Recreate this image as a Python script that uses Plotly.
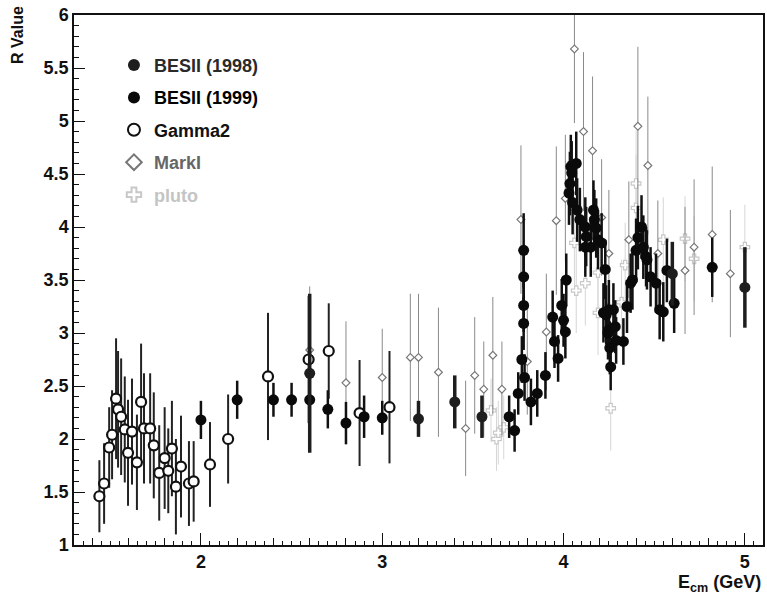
import plotly.graph_objects as go

# ---------------- data ----------------
# BESII (1998)
bes98_x = [2.6, 3.2, 3.4, 3.55, 4.6, 5.0]
bes98_y = [2.62, 2.19, 2.35, 2.21, 3.56, 3.43]
bes98_e = [0.75, 0.17, 0.25, 0.20, 0.30, 0.38]

# BESII (1999)
bes99_x = [2.0, 2.2, 2.4, 2.5, 2.6, 2.7, 2.8, 2.9, 3.0,
           3.70, 3.73, 3.75, 3.77, 3.78, 3.78, 3.78, 3.78, 3.785, 3.82, 3.855,
           3.90, 3.94, 3.95, 3.97, 3.99, 4.0, 4.01, 4.015,
           4.03, 4.035, 4.04, 4.045, 4.05, 4.07, 4.075, 4.09, 4.12, 4.125, 4.12,
           4.15, 4.165, 4.17, 4.18, 4.19, 4.21, 4.23,
           4.22, 4.235, 4.25, 4.25, 4.255, 4.26, 4.245, 4.275, 4.29, 4.285,
           4.33, 4.35, 4.37, 4.38, 4.40, 4.41, 4.43, 4.44, 4.455, 4.46, 4.48,
           4.51, 4.53, 4.55, 4.57, 4.61, 4.82]
bes99_y = [2.18, 2.37, 2.37, 2.37, 2.37, 2.28, 2.15, 2.21, 2.20,
           2.21, 2.08, 2.43, 2.75, 3.78, 3.53, 3.26, 3.09, 2.58, 2.35, 2.43,
           2.60, 3.15, 2.92, 2.76, 3.26, 3.12, 3.01, 3.50,
           4.32, 4.41, 4.57, 4.51, 4.23, 4.60, 4.16, 4.07, 4.00, 3.91, 3.81,
           3.81, 4.16, 4.07, 3.99, 3.88, 3.85, 3.60,
           3.19, 3.17, 3.22, 3.03, 2.86, 2.68, 3.00, 3.22, 2.93, 3.06,
           2.92, 3.25, 3.47, 3.50, 3.78, 3.90, 4.00, 3.81, 3.72, 3.69, 3.53,
           3.47, 3.22, 3.20, 3.59, 3.28, 3.62]
bes99_e = [0.18, 0.18, 0.16, 0.16, 0.20, 0.18, 0.20, 0.20, 0.16,
           0.20, 0.20, 0.20, 0.22, 0.35, 0.28, 0.25, 0.25, 0.22, 0.22, 0.22,
           0.22, 0.25, 0.25, 0.22, 0.25, 0.25, 0.25, 0.25,
           0.30, 0.30, 0.30, 0.30, 0.30, 0.30, 0.30, 0.30, 0.28, 0.28, 0.28,
           0.28, 0.28, 0.28, 0.28, 0.28, 0.28, 0.28,
           0.28, 0.28, 0.28, 0.25, 0.25, 0.22, 0.25, 0.25, 0.22, 0.25,
           0.22, 0.25, 0.28, 0.28, 0.30, 0.30, 0.30, 0.30, 0.28, 0.28, 0.28,
           0.28, 0.28, 0.28, 0.30, 0.28, 0.28]

# Gamma2
g2_x = [1.44, 1.466, 1.494, 1.51, 1.532, 1.543, 1.56, 1.58, 1.598, 1.62,
        1.647, 1.67, 1.686, 1.72, 1.74, 1.77, 1.80, 1.82, 1.84, 1.862,
        1.89, 1.934, 1.96, 2.05, 2.15, 2.37, 2.594, 2.705, 2.875, 3.04]
g2_y = [1.46, 1.58, 1.92, 2.04, 2.38, 2.28, 2.21, 2.09, 1.87, 2.07,
        1.78, 2.35, 2.10, 2.10, 1.94, 1.68, 1.82, 1.70, 1.91, 1.55,
        1.74, 1.58, 1.60, 1.76, 2.00, 2.59, 2.75, 2.83, 2.245, 2.30]
g2_e = [0.34, 0.38, 0.38, 0.42, 0.57, 0.55, 0.55, 0.50, 0.50, 0.50,
        0.45, 0.55, 0.52, 0.52, 0.50, 0.45, 0.48, 0.40, 0.45, 0.45,
        0.48, 0.40, 0.38, 0.40, 0.42, 0.60, 0.60, 0.45, 0.50, 0.53]

# MarkI
mk_x = [2.6, 2.8, 3.0, 3.155, 3.20, 3.31, 3.46, 3.51, 3.56, 3.61, 3.66,
        3.765, 3.80, 3.905, 3.96, 4.01, 4.06, 4.11, 4.16, 4.21, 4.25,
        4.36, 4.41, 4.465, 4.52, 4.67, 4.72, 4.82, 4.92]
mk_y = [2.84, 2.53, 2.58, 2.77, 2.77, 2.63, 2.10, 2.60, 2.47, 2.79, 2.47,
        4.07, 2.73, 3.01, 4.06, 4.27, 5.68, 4.90, 4.72, 4.09, 3.75,
        3.88, 4.95, 4.58, 3.75, 3.59, 3.81, 3.93, 3.56]
mk_e = [0.60, 0.58, 0.46, 0.60, 0.60, 0.61, 0.45, 0.55, 0.45, 0.55, 0.45,
        0.70, 0.50, 0.55, 0.70, 0.60, 0.70, 0.75, 0.70, 0.55, 0.60,
        0.55, 0.75, 0.65, 0.50, 0.60, 0.64, 0.64, 0.60]

# pluto
pl_x = [3.60, 3.63, 3.64, 3.67, 4.06, 4.07, 4.12, 4.19, 4.19, 4.26,
        4.32, 4.34, 4.40, 4.40, 4.55, 4.67, 4.72, 5.0]
pl_y = [2.27, 2.00, 2.06, 2.11, 3.85, 3.40, 3.47, 3.57, 3.19, 2.29,
        3.29, 3.64, 4.41, 4.18, 3.88, 3.89, 3.70, 3.81]
pl_e = [0.30, 0.30, 0.30, 0.30, 0.40, 0.40, 0.40, 0.40, 0.40, 0.40,
        0.40, 0.40, 0.50, 0.50, 0.40, 0.40, 0.40, 0.40]

FONT = "Liberation Sans"

fig = go.Figure()

def add(x, y, e, name, rank, symbol, fill, line_c, line_w, size, bar_c, bar_w):
    fig.add_trace(go.Scatter(
        x=x, y=y, mode="markers", name=name, legendrank=rank, legendgroup=name,
        marker=dict(symbol=symbol, color=fill, size=size,
                    line=dict(color=line_c, width=line_w)),
        error_y=dict(type="data", array=e, visible=True, color=bar_c,
                     thickness=bar_w, width=0),
        cliponaxis=True,
    ))

add(pl_x, pl_y, pl_e, '<span style="color:#c4c4c4">pluto</span>', 5,
    "cross", "white", "#c8c8c8", 1.2, 8, "#d6d6d6", 1)
add(mk_x, mk_y, mk_e, '<span style="color:#666666">MarkI</span>', 4,
    "diamond", "white", "#777777", 1.2, 6, "#8a8a8a", 1)
add(g2_x, g2_y, g2_e, '<span style="color:#111111">Gamma2</span>', 3,
    "circle", "white", "#111111", 2.2, 10, "#222222", 2)
add(bes99_x, bes99_y, bes99_e, '<span style="color:#000000">BESII (1999)</span>', 2,
    "circle", "#0a0a0a", "#0a0a0a", 0, 11, "#111111", 2.5)
add(bes98_x, bes98_y, bes98_e, '<span style="color:#2a2a2a">BESII (1998)</span>', 1,
    "circle", "#1e1e1e", "#1e1e1e", 0, 11, "#1e1e1e", 3.5)

# invisible trace that carries the secondary x-axis (medium ticks every 0.2)
fig.add_trace(go.Scatter(x=[1.3], y=[1], xaxis="x2", mode="markers",
                         marker=dict(opacity=0), showlegend=False, hoverinfo="skip"))

fig.update_layout(
    width=767, height=600,
    margin=dict(l=74, r=2, t=15, b=55),
    paper_bgcolor="white", plot_bgcolor="white",
    font=dict(family=FONT, color="#111111"),
    showlegend=True,
    legend=dict(x=0.058, y=0.94, xanchor="left", yanchor="top",
                bgcolor="rgba(0,0,0,0)", borderwidth=0,
                font=dict(family=FONT, size=18, color="#111111", weight="bold"),
                tracegroupgap=6, itemsizing="constant"),
    xaxis=dict(range=[1.3, 5.1], showgrid=False, zeroline=False,
               showline=True, linecolor="#111111", linewidth=1.5, mirror=True,
               ticks="inside", ticklen=12, tickwidth=1.2, tickcolor="#111111",
               dtick=1, tick0=0,
               tickfont=dict(family=FONT, size=18, color="#111111", weight="bold"),
               minor=dict(ticks="inside", ticklen=4, dtick=0.05, tick0=0,
                          tickcolor="#111111", tickwidth=1)),
    xaxis2=dict(range=[1.3, 5.1], overlaying="x", anchor="y", side="bottom",
                showgrid=False, zeroline=False, showline=False,
                ticks="inside", ticklen=7, tickwidth=1, tickcolor="#111111",
                dtick=0.2, tick0=0, showticklabels=False),
    yaxis=dict(range=[1, 6], showgrid=False, zeroline=False,
               showline=True, linecolor="#111111", linewidth=1.5, mirror=True,
               ticks="inside", ticklen=11, tickwidth=1.2, tickcolor="#111111",
               dtick=0.5, tick0=0,
               tickfont=dict(family=FONT, size=18, color="#111111", weight="bold"),
               minor=dict(ticks="inside", ticklen=5, dtick=0.1, tick0=0,
                          tickcolor="#111111", tickwidth=1)),
    annotations=[
        dict(text="<b>R Value</b>", xref="paper", yref="paper",
             x=-0.083, y=0.962, xanchor="center", yanchor="middle",
             textangle=-90, showarrow=False,
             font=dict(family=FONT, size=16, color="#111111")),
        dict(text="<b>E<sub>cm</sub> (GeV)</b>", xref="paper", yref="paper",
             x=1.0, y=-0.072, xanchor="right", yanchor="middle",
             showarrow=False,
             font=dict(family=FONT, size=18, color="#111111")),
    ],
)

fig.write_html("out.html")
